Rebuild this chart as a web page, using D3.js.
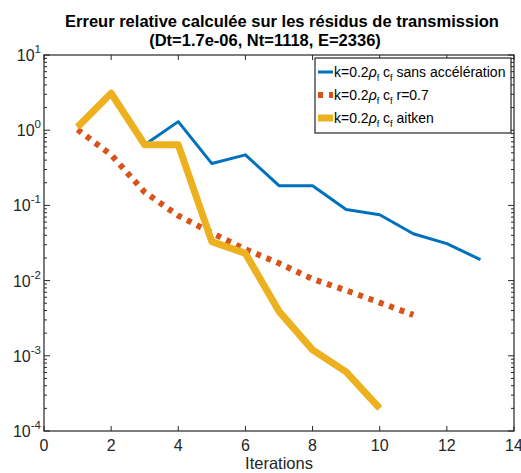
<!DOCTYPE html>
<html>
<head>
<meta charset="utf-8">
<script src="https://cdn.jsdelivr.net/npm/d3@7"></script>
<style>
body { margin: 0; background: #fff; }
text { font-family: "Liberation Sans", Arial, sans-serif; }
</style>
</head>
<body>
<script>
const width = 521;
const height = 473;

// iterations and residual errors
const iterBlue = [1, 2, 3, 4, 5, 6, 7, 8, 9, 10, 11, 12, 13];
const errBlue = [1.1, 3.1, 0.64, 1.3, 0.36, 0.47, 0.183, 0.183, 0.088, 0.075, 0.042, 0.031, 0.019];
const iterRed = [1, 2, 3, 4, 5, 6, 7, 8, 9, 10, 11];
const errRed = [1.02, 0.47, 0.15, 0.073, 0.043, 0.026, 0.017, 0.0105, 0.0074, 0.0051, 0.0035];
const iterYellow = [1, 2, 3, 4, 5, 6, 7, 8, 9, 10];
const errYellow = [1.1, 3.1, 0.64, 0.64, 0.033, 0.023, 0.0039, 0.0012, 0.00061, 0.0002];
const xTicks = [0, 2, 4, 6, 8, 10, 12, 14];
const yExponents = [-4, -3, -2, -1, 0, 1];

const margin = {left: 44, right: 7, top: 55, bottom: 42};

const svg = d3.select("body")
  .append("svg")
  .attr("width", width)
  .attr("height", height);

const x = d3.scaleLinear()
  .domain([0, 14])
  .range([margin.left, width - margin.right]);

const y = d3.scaleLog()
  .domain([1e-4, 10])
  .range([height - margin.bottom, margin.top]);

// minor ticks on log axis
const minor = [];
yExponents.slice(0, -1).forEach(e => {
  for (let m = 2; m <= 9; m++) minor.push(m * Math.pow(10, e));
});

const tickColor = "#262626";

svg.selectAll(".minorL")
  .data(minor)
  .enter()
  .append("line")
  .attr("x1", x(0)).attr("x2", x(0) + 3)
  .attr("y1", d => y(d)).attr("y2", d => y(d))
  .attr("stroke", tickColor);

svg.selectAll(".minorR")
  .data(minor)
  .enter()
  .append("line")
  .attr("x1", x(14)).attr("x2", x(14) - 3)
  .attr("y1", d => y(d)).attr("y2", d => y(d))
  .attr("stroke", tickColor);

const majors = yExponents.map(e => Math.pow(10, e));
svg.selectAll(".majorY")
  .data(majors)
  .enter()
  .append("path")
  .attr("d", d => `M${x(0)},${y(d)}h6M${x(14)},${y(d)}h-6`)
  .attr("stroke", tickColor);

svg.selectAll(".majorX")
  .data(xTicks)
  .enter()
  .append("path")
  .attr("d", d => `M${x(d)},${y(1e-4)}v-5M${x(d)},${y(10)}v5`)
  .attr("stroke", tickColor);

// tick labels
svg.selectAll(".xlab")
  .data(xTicks)
  .enter()
  .append("text")
  .attr("x", d => x(d))
  .attr("y", y(1e-4) + 20)
  .attr("text-anchor", "middle")
  .attr("font-size", 16)
  .attr("fill", tickColor)
  .text(d => d);

const ylab = svg.selectAll(".ylab")
  .data(yExponents)
  .enter()
  .append("text")
  .attr("x", x(0) - 3)
  .attr("y", d => y(Math.pow(10, d)) + 6)
  .attr("text-anchor", "end")
  .attr("font-size", 16)
  .attr("fill", tickColor);
ylab.append("tspan").text("10");
ylab.append("tspan")
  .attr("dy", -8)
  .attr("font-size", 11.5)
  .text(d => d);

// series
const line = d3.line()
  .x(d => x(d[0]))
  .y(d => y(d[1]));

svg.append("path")
  .datum(d3.zip(iterBlue, errBlue))
  .attr("fill", "none")
  .attr("stroke", "#0072BD")
  .attr("stroke-width", 3)
  .attr("stroke-linejoin", "round")
  .attr("d", line);

svg.append("path")
  .datum(d3.zip(iterRed, errRed))
  .attr("fill", "none")
  .attr("stroke", "#D95319")
  .attr("stroke-width", 6)
  .attr("stroke-dasharray", "5,6")
  .attr("d", line);

svg.append("path")
  .datum(d3.zip(iterYellow, errYellow))
  .attr("fill", "none")
  .attr("stroke", "#EDB120")
  .attr("stroke-width", 7)
  .attr("stroke-linejoin", "round")
  .attr("d", line);

// frame
svg.append("rect")
  .attr("x", x(0)).attr("y", y(10))
  .attr("width", x(14) - x(0))
  .attr("height", y(1e-4) - y(10))
  .attr("fill", "none")
  .attr("stroke", tickColor)
  .attr("stroke-width", 1.2);

// title
svg.append("text")
  .attr("x", 282).attr("y", 27)
  .attr("text-anchor", "middle")
  .attr("font-size", 16.5).attr("font-weight", "bold")
  .text("Erreur relative calculée sur les résidus de transmission");
svg.append("text")
  .attr("x", 265).attr("y", 46)
  .attr("text-anchor", "middle")
  .attr("font-size", 16.5).attr("font-weight", "bold")
  .text("(Dt=1.7e-06, Nt=1118, E=2336)");

svg.append("text")
  .attr("x", 279).attr("y", 469)
  .attr("text-anchor", "middle")
  .attr("font-size", 16.5)
  .attr("fill", tickColor)
  .text("Iterations");

// legend
const legendItems = [
  {label: "sans accélération", color: "#0072BD", w: 3, dash: null},
  {label: "r=0.7", color: "#D95319", w: 6, dash: "5,6"},
  {label: "aitken", color: "#EDB120", w: 7, dash: null}
];
const lg = svg.append("g").attr("transform", "translate(315,58)");
lg.append("rect")
  .attr("width", 196).attr("height", 75)
  .attr("fill", "#fff")
  .attr("stroke", tickColor)
  .attr("stroke-width", 1.2);
const rows = lg.selectAll(".row")
  .data(legendItems)
  .enter()
  .append("g")
  .attr("transform", (d, i) => `translate(0,${14 + i * 23})`);
rows.append("line")
  .attr("x1", 3).attr("x2", 18)
  .attr("stroke", d => d.color)
  .attr("stroke-width", d => d.w)
  .attr("stroke-dasharray", d => d.dash);
const lt = rows.append("text")
  .attr("x", 19).attr("y", 5)
  .attr("font-size", 14);
lt.append("tspan").text("k=0.2");
lt.append("tspan").attr("font-style", "italic").text("ρ");
lt.append("tspan").attr("font-size", 9).attr("dy", 4).text("f");
lt.append("tspan").attr("dy", -4).text(" c");
lt.append("tspan").attr("font-size", 9).attr("dy", 4).text("f");
lt.append("tspan").attr("dy", -4).text(d => " " + d.label);
</script>
</body>
</html>
